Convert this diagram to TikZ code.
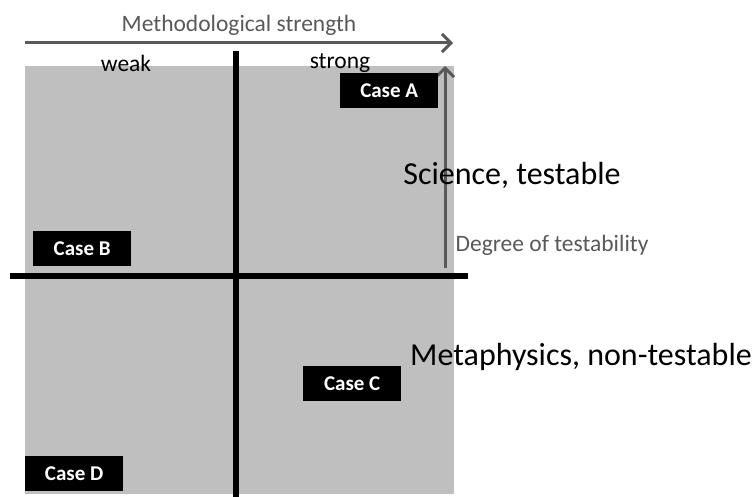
\documentclass[tikz,border=0pt]{standalone}
\usepackage{fontspec}
\setmainfont{Carlito}
\usetikzlibrary{arrows.meta}
\definecolor{quad}{HTML}{BFBFBF}
\definecolor{axisgray}{HTML}{595959}
\tikzset{
  casebox/.style={fill=black,text=white,font=\fontsize{21}{23}\selectfont\bfseries,minimum width=98pt,minimum height=35pt,inner sep=0pt,anchor=north west},
  axis/.style={draw=axisgray,line width=3pt,-{Straight Barb[length=9pt,width=18pt,line width=3pt]}},
  divider/.style={draw=black,line width=5.5pt},
  small/.style={font=\fontsize{23.5}{25}\selectfont},
  big/.style={font=\fontsize{32}{34}\selectfont},
}
\begin{document}
\begin{tikzpicture}[x=1pt,y=-1pt]
\useasboundingbox (0,0) rectangle (754,497);
\fill[quad] (25,66) rectangle (454,494);
% dividers
\coordinate (vtop) at (236,51);
\coordinate (vbot) at (236,497);
\coordinate (hl) at (10,276);
\coordinate (hr) at (468,276);
\draw[divider] (vtop) -- (vbot);
\draw[divider] (hl) -- (hr);
% axes
\coordinate (hs) at (25,43);
\coordinate (he) at (453,43);
\draw[axis] (hs) -- (he);
\coordinate (vs) at (445,268);
\coordinate (ve) at (445,66);
\draw[axis] (vs) -- (ve);
% labels
\node[small,text=axisgray] (mstr) at (239,25) {Methodological strength};
\node[small] (weak) at (126,63) {weak};
\node[small] (strong) at (340,63) {strong};
\node[big] (sci) at (512,175) {Science, testable};
\node[small,text=axisgray] (deg) at (552,245) {Degree of testability};
\node[big] (meta) at (581,357) {Metaphysics, non-testable};
% cases
\node[casebox] (ca) at (340,73) {Case A};
\node[casebox] (cb) at (33,231) {Case B};
\node[casebox] (cc) at (303,366) {Case C};
\node[casebox] (cd) at (25,456) {Case D};
\end{tikzpicture}
\end{document}
